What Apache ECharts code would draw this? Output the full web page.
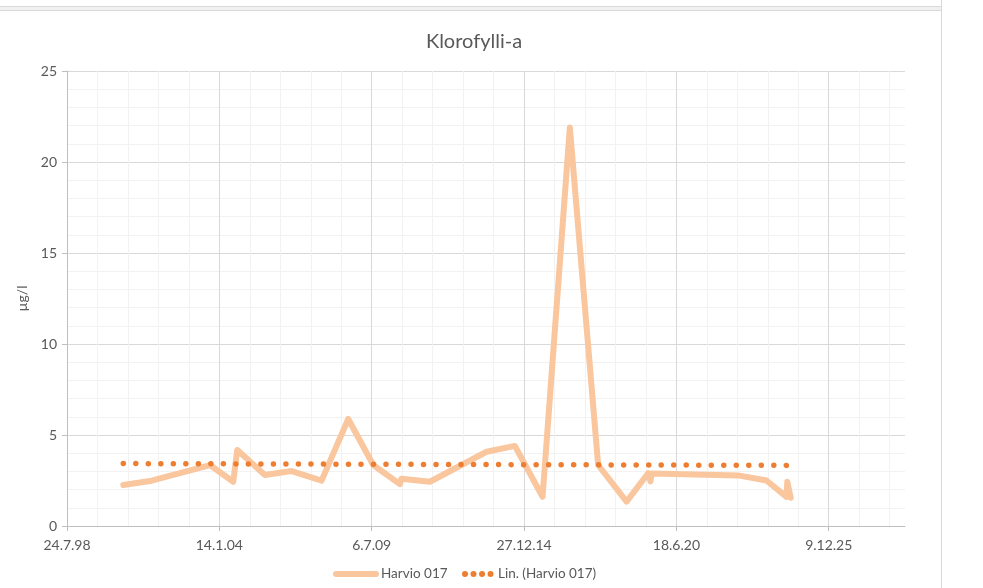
<!DOCTYPE html>
<html>
<head>
<meta charset="utf-8">
<title>Klorofylli-a</title>
<script src="https://cdn.jsdelivr.net/npm/echarts@6/dist/echarts.min.js"></script>
<style>
  html, body { margin: 0; padding: 0; background: #fff; }
  #chart { width: 983px; height: 588px; }
</style>
</head>
<body>
<div id="chart"></div>
<script>
// sampling dates and chlorophyll-a values (µg/l)
const sampleDates = [
  '2000-08-01', '2001-08-08', '2003-09-13', '2004-07-14', '2004-09-05',
  '2005-09-03', '2006-08-20', '2007-09-17', '2008-09-01', '2009-07-26',
  '2010-07-11', '2010-07-31', '2011-08-09', '2013-08-22', '2014-08-28',
  '2015-08-27', '2016-08-19', '2017-08-26', '2018-09-03', '2019-06-13',
  '2019-07-14', '2019-07-27', '2022-09-06', '2023-09-14', '2024-06-02',
  '2024-06-13', '2024-07-28'
]
const chlorophyll = [
  2.25, 2.49, 3.35, 2.43, 4.18,
  2.8, 3.02, 2.49, 5.88, 3.35,
  2.3, 2.6, 2.43, 4.08, 4.4,
  1.61, 21.9, 3.35, 1.34, 2.9,
  2.45, 2.88, 2.78, 2.5, 1.6,
  2.43, 1.55
]

// linear trend line end values
const trendValues = [3.43, 3.33]

// axis ticks
const xTickDates = ['1998-07-24', '2004-01-14', '2009-07-06', '2014-12-27', '2020-06-18', '2025-12-09']
const xAxisEndDate = '2028-09-05'
const yTicks = [0, 5, 10, 15, 20, 25]

const FONT = 'Lato, "Open Sans", sans-serif'
const TEXT = '#595959'
const LINE_COLOR = '#F9C69E'
const TREND_COLOR = '#ED7D31'

// excel style day serials
const toSerial = (s) => {
  const p = s.split('-').map(Number)
  return Math.round((Date.UTC(p[0], p[1] - 1, p[2]) - Date.UTC(1899, 11, 30)) / 86400000)
}
const fmtSerial = (v) => {
  const d = new Date(Date.UTC(1899, 11, 30) + v * 86400000)
  return d.getUTCDate() + '.' + (d.getUTCMonth() + 1) + '.' + String(d.getUTCFullYear()).slice(2)
}

const xTicks = xTickDates.map(toSerial)
const xMin = xTicks[0]
const xMax = toSerial(xAxisEndDate)
const xMajor = xTicks[1] - xTicks[0]
const xMinor = xMajor / 5

const lineData = sampleDates.map((d, i) => [toSerial(d), chlorophyll[i]])
const trendData = [
  [toSerial(sampleDates[0]), trendValues[0]],
  [toSerial(sampleDates[sampleDates.length - 1]), trendValues[1]]
]

const chart = echarts.init(document.getElementById('chart'))

const option = {
  animation: false,
  textStyle: { fontFamily: FONT },
  title: {
    text: 'Klorofylli-a',
    left: 469,
    top: 27,
    textAlign: 'center',
    textStyle: { color: TEXT, fontSize: 20, fontWeight: 'normal', fontFamily: FONT }
  },
  legend: [
    {
      left: 333,
      top: 567,
      padding: 0,
      itemWidth: 40,
      itemHeight: 14,
      textStyle: { color: TEXT, fontSize: 13.5, fontFamily: FONT },
      data: [{
        name: 'Harvio 017',
        itemStyle: { opacity: 0 },
        lineStyle: { width: 6, cap: 'round', color: LINE_COLOR }
      }]
    },
    {
      left: 462,
      top: 567,
      padding: 0,
      itemWidth: 28,
      itemHeight: 14,
      textStyle: { color: TEXT, fontSize: 13.5, fontFamily: FONT },
      data: [{
        name: 'Lin. (Harvio 017)',
        itemStyle: { opacity: 0 },
        lineStyle: { type: [0.01, 8.5], cap: 'round', width: 6, color: TREND_COLOR }
      }]
    }
  ],
  grid: {
    left: 67,
    right: 78,
    top: 71,
    bottom: 62,
    containLabel: false
  },
  xAxis: [
    {
      // minor + major vertical grid lines
      type: 'value',
      position: 'bottom',
      min: xMin,
      max: xMax,
      interval: xMinor,
      axisLine: { show: true, onZero: false, lineStyle: { color: '#BFBFBF', width: 1 } },
      axisTick: { show: false },
      axisLabel: { show: false },
      splitLine: {
        show: true,
        showMaxLine: false,
        lineStyle: { color: ['#D9D9D9', '#F2F2F2', '#F2F2F2', '#F2F2F2', '#F2F2F2'], width: 1 }
      }
    },
    {
      // date labels and major ticks
      type: 'value',
      position: 'bottom',
      min: xMin,
      max: xMax,
      interval: xMajor,
      axisLine: { show: false, onZero: false },
      axisTick: { show: true, length: 5, customValues: xTicks, lineStyle: { color: '#BFBFBF' } },
      axisLabel: {
        color: TEXT,
        fontSize: 14,
        margin: 12,
        fontFamily: FONT,
        customValues: xTicks,
        formatter: (v) => fmtSerial(v)
      },
      splitLine: { show: false }
    }
  ],
  yAxis: {
    type: 'value',
    min: yTicks[0],
    max: yTicks[yTicks.length - 1],
    interval: yTicks[1] - yTicks[0],
    name: 'µg/l',
    nameLocation: 'middle',
    nameRotate: 90,
    nameGap: 34,
    nameTextStyle: { color: TEXT, fontSize: 14, fontFamily: FONT },
    axisLine: { show: true, lineStyle: { color: '#BFBFBF', width: 1 } },
    axisTick: { show: true, length: 5, lineStyle: { color: '#BFBFBF' } },
    axisLabel: { color: TEXT, fontSize: 14, margin: 10, fontFamily: FONT },
    splitLine: { lineStyle: { color: '#D9D9D9', width: 1 } },
    minorTick: { show: false, splitNumber: 5 },
    minorSplitLine: { show: true, lineStyle: { color: '#F2F2F2', width: 1 } }
  },
  graphic: [
    { type: 'rect', shape: { x: -1, y: 6, width: 942, height: 5 }, style: { fill: '#F0F0F0' }, silent: true },
    { type: 'line', shape: { x1: 0, y1: 6.5, x2: 941.5, y2: 6.5 }, style: { stroke: '#D9D9D9', lineWidth: 1 }, silent: true },
    { type: 'line', shape: { x1: 0, y1: 10.5, x2: 941.5, y2: 10.5 }, style: { stroke: '#D9D9D9', lineWidth: 1 }, silent: true },
    { type: 'line', shape: { x1: 941.5, y1: 0, x2: 941.5, y2: 588 }, style: { stroke: '#D9D9D9', lineWidth: 1 }, silent: true }
  ],
  series: [
    {
      name: 'Harvio 017',
      type: 'line',
      xAxisIndex: 0,
      data: lineData,
      symbol: 'none',
      z: 2,
      itemStyle: { color: LINE_COLOR },
      lineStyle: { color: LINE_COLOR, width: 6, cap: 'round', join: 'round' }
    },
    {
      name: 'Lin. (Harvio 017)',
      type: 'line',
      xAxisIndex: 0,
      data: trendData,
      symbol: 'none',
      z: 3,
      itemStyle: { color: TREND_COLOR },
      lineStyle: { color: TREND_COLOR, width: 5.5, type: [0.01, 12.5], cap: 'round' }
    }
  ]
}

chart.setOption(option)

window.addEventListener('resize', () => {
  chart.resize()
})
</script>
</body>
</html>
